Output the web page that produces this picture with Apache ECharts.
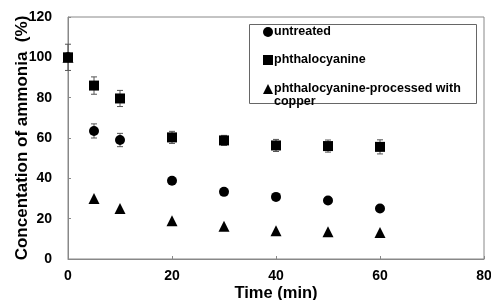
<!DOCTYPE html>
<html>
<head>
<meta charset="utf-8">
<script src="https://cdn.jsdelivr.net/npm/echarts@6/dist/echarts.min.js"></script>
<style>
  html, body { margin: 0; padding: 0; background: #fff; }
  #chart { width: 491px; height: 300px; }
</style>
</head>
<body>
<div id="chart"></div>
<script>
const times = [0, 5, 10, 20, 30, 40, 50, 60]

const untreated = [100, 63.5, 59, 38.8, 33.3, 30.8, 29, 25]
const untreatedErr = [0, 3.5, 3.3, 0, 0, 0, 0, 0]

const phthalo = [100, 86, 79.6, 60.3, 58.8, 56.3, 56, 55.6]
const phthaloErr = [6.5, 4.3, 4, 3, 2.5, 3, 3, 3.5]

const copper = [100, 30, 25, 19, 16.2, 14, 13.5, 13.2]

const seriesNames = ['untreated', 'phthalocyanine', 'phthalocyanine-processed with\ncopper']

const font = 'Liberation Sans, Arial, sans-serif'

const toPairs = vals => vals.map((v, i) => [times[i], v])
const toErr = (vals, errs) => vals.map((v, i) => [times[i], v - errs[i], v + errs[i]]).filter((d, i) => errs[i] > 0)

function errorBars(name, data) {
  return {
    name: name + '-err',
    type: 'custom',
    silent: true,
    z: 1,
    data: data,
    renderItem: (params, api) => {
      const lo = api.coord([api.value(0), api.value(1)])
      const hi = api.coord([api.value(0), api.value(2)])
      const cap = 3
      const style = { stroke: '#555', lineWidth: 1 }
      return {
        type: 'group',
        children: [
          { type: 'line', shape: { x1: lo[0], y1: lo[1], x2: hi[0], y2: hi[1] }, style },
          { type: 'line', shape: { x1: lo[0] - cap, y1: lo[1], x2: lo[0] + cap, y2: lo[1] }, style },
          { type: 'line', shape: { x1: hi[0] - cap, y1: hi[1], x2: hi[0] + cap, y2: hi[1] }, style }
        ]
      }
    }
  }
}

const chart = echarts.init(document.getElementById('chart'))

const legendTops = [20.5, 48.5, 64.5]
const legendIcons = ['circle', 'rect', 'triangle']

const option = {
  animation: false,
  textStyle: { fontFamily: font },
  grid: {
    left: 68, right: 7, top: 17, bottom: 41,
    outerBoundsMode: 'none',
    containLabel: false,
    show: true, borderColor: '#888', borderWidth: 1, backgroundColor: 'transparent'
  },
  graphic: [{
    type: 'rect',
    left: 249, top: 24,
    shape: { width: 227, height: 79 },
    style: { fill: '#fff', stroke: '#666', lineWidth: 1 },
    z: 5
  }],
  legend: seriesNames.map((name, i) => ({
    data: [name],
    icon: legendIcons[i],
    left: 258,
    top: legendTops[i],
    padding: 5,
    z: 10,
    itemWidth: 10, itemHeight: 10,
    formatter: n => (i === 2 ? ' \n' + n : n),
    textStyle: {
      fontFamily: font, fontSize: 12.5, fontWeight: 'bold', color: '#000', lineHeight: 13,
      padding: [0, 0, 0, -4]
    }
  })),
  xAxis: {
    type: 'value',
    min: 0, max: 80, interval: 20,
    name: 'Time (min)',
    nameLocation: 'middle',
    nameGap: 26,
    nameMoveOverlap: false,
    nameTextStyle: { fontFamily: font, fontSize: 16.5, fontWeight: 'bold', color: '#000' },
    axisLine: { lineStyle: { color: '#888' } },
    axisTick: { inside: true, length: 3, lineStyle: { color: '#888' } },
    axisLabel: { margin: 10, fontFamily: font, fontSize: 14, fontWeight: 'bold', color: '#000' },
    splitLine: { show: false }
  },
  yAxis: {
    type: 'value',
    min: 0, max: 120, interval: 20,
    name: 'Concentation of ammonia  (%)',
    nameLocation: 'middle',
    nameGap: 37,
    nameMoveOverlap: false,
    nameTextStyle: { fontFamily: font, fontSize: 17, fontWeight: 'bold', color: '#000' },
    axisLine: { show: true, lineStyle: { color: '#888' } },
    axisTick: { show: true, inside: true, length: 3, lineStyle: { color: '#888' } },
    axisLabel: { margin: 16, fontFamily: font, fontSize: 14, fontWeight: 'bold', color: '#000' },
    splitLine: { show: false }
  },
  series: [
    errorBars('untreated', toErr(untreated, untreatedErr)),
    errorBars('phthalo', toErr(phthalo, phthaloErr)),
    {
      name: seriesNames[0], type: 'scatter', symbol: 'circle', symbolSize: 10,
      itemStyle: { color: '#000', opacity: 1 }, z: 3, data: toPairs(untreated)
    },
    {
      name: seriesNames[1], type: 'scatter', symbol: 'rect', symbolSize: 10,
      itemStyle: { color: '#000', opacity: 1 }, z: 3, data: toPairs(phthalo)
    },
    {
      name: seriesNames[2], type: 'scatter', symbol: 'triangle', symbolSize: 11,
      itemStyle: { color: '#000', opacity: 1 }, z: 3, data: toPairs(copper)
    }
  ]
}

chart.setOption(option)
</script>
</body>
</html>
